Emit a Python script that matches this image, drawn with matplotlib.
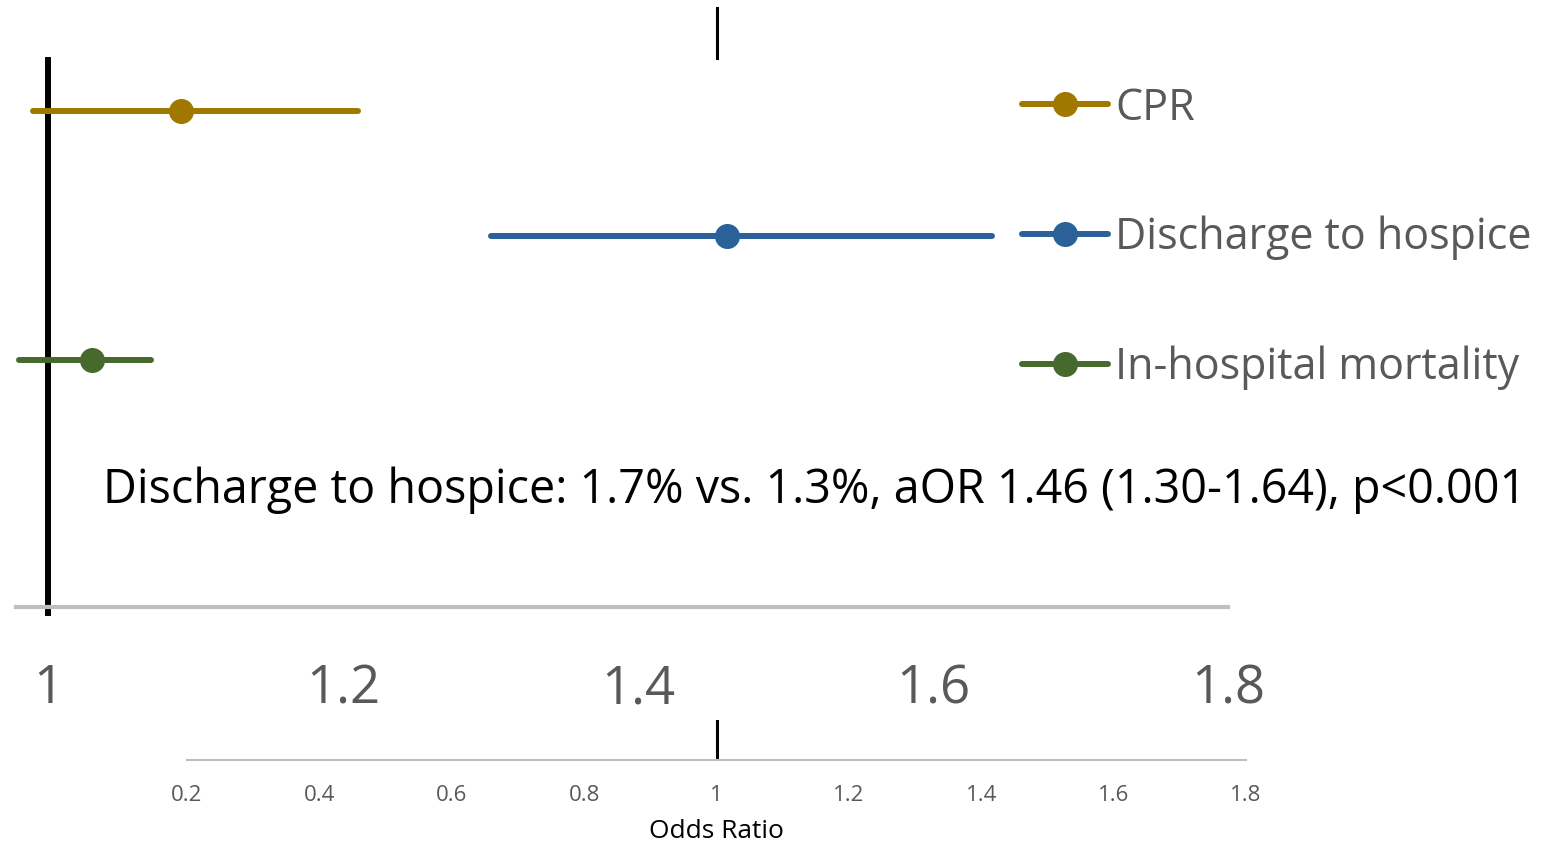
import matplotlib
matplotlib.use("Agg")
import matplotlib.pyplot as plt
import matplotlib.transforms as mtransforms

plt.rcParams['font.family'] = ['Open Sans', 'DejaVu Sans']

# Adjusted odds ratios with 95% CI
outcomes = ['CPR', 'Discharge to hospice', 'In-hospital mortality']
odds_ratio = [1.09, 1.46, 1.03]
ci_low = [0.99, 1.30, 0.98]
ci_high = [1.21, 1.64, 1.07]
row_pos = [3, 2, 1]
colors = ['#A07800', '#2A6199', '#46692D']

top_ticks = [1, 1.2, 1.4, 1.6, 1.8]
top_labels = ['1', '1.2', '1.4', '1.6', '1.8']
bottom_ticks = [0.2, 0.4, 0.6, 0.8, 1, 1.2, 1.4, 1.6, 1.8]
bottom_labels = ['0.2', '0.4', '0.6', '0.8', '1', '1.2', '1.4', '1.6', '1.8']
note = 'Discharge to hospice: 1.7% vs. 1.3%, aOR 1.46 (1.30-1.64), p<0.001'

W, H = 1542, 842
fig = plt.figure(figsize=(W / 100, H / 100), dpi=100)

# main forest plot, axes spans px x 16..1228, y 8..607
ax = fig.add_axes([16 / W, (H - 607) / H, (1228 - 16) / W, (607 - 8) / H])
ax.set_xlim(1 - 32 / 1475, 1.8)
ax.set_ylim(1 - 247 / 124.5, 3 + 103 / 124.5)

ax.axvline(1, ymin=-0.01, ymax=(607 - 60) / 599, color='black', lw=4.3, zorder=1, clip_on=False)

handles = []
for name, o, lo, hi, y, c in zip(outcomes, odds_ratio, ci_low, ci_high, row_pos, colors):
    h, = ax.plot([lo, o, hi], [y, y, y], color=c, lw=4.3, marker='o', markevery=[1],
                 markersize=17, solid_capstyle='round', label=name, zorder=3, clip_on=False)
    handles.append(h)

for s in ['top', 'left', 'right']:
    ax.spines[s].set_visible(False)
ax.spines['bottom'].set_color('#BFBFBF')
ax.spines['bottom'].set_linewidth(3)
ax.set_yticks([])
ax.set_xticks(top_ticks)
ax.set_xticklabels(top_labels)
ax.tick_params(axis='x', length=0, pad=40, labelsize=38, labelcolor='#595959')

# lower reference axis
ax2 = fig.add_axes([187 / W, (H - 760) / H, (1246 - 187) / W, 40 / H])
ax2.set_xlim(0.2, 1.8)
ax2.set_ylim(0, 1)
for s in ['top', 'left', 'right']:
    ax2.spines[s].set_visible(False)
ax2.spines['bottom'].set_color('#BFBFBF')
ax2.spines['bottom'].set_linewidth(1.5)
ax2.set_yticks([])
ax2.set_xticks(bottom_ticks)
ax2.set_xticklabels(bottom_labels)
ax2.tick_params(axis='x', length=0, pad=18, labelsize=16, labelcolor='#595959')
ax2.set_xlabel('Odds Ratio', fontsize=19, color='black', labelpad=9)
ax2.axvline(1, color='black', lw=2.2)
blend = mtransforms.blended_transform_factory(ax2.transData, fig.transFigure)
ax2.plot([1, 1], [(H - 8) / H, (H - 58) / H], color='black', lw=2.2,
         transform=blend, clip_on=False)

fig.legend(handles=handles, loc='upper left', bbox_to_anchor=(1022 / W, (H - 86) / H),
           frameon=False, fontsize=31, labelcolor='#595959', numpoints=1,
           handlelength=2.0, handletextpad=0.17, labelspacing=1.98,
           borderpad=0, borderaxespad=0)

fig.text(103 / W, (H - 490) / H, note, fontsize=33.6, color='black', ha='left', va='center')

fig.savefig('out.png', dpi=100)
